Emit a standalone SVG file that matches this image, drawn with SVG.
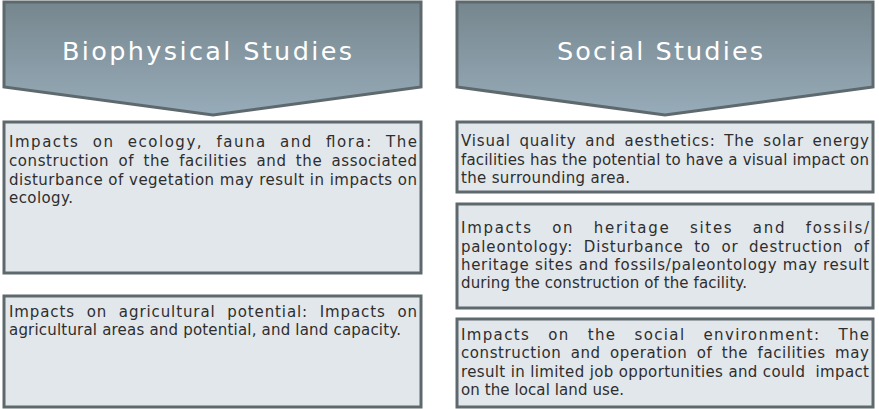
<svg xmlns="http://www.w3.org/2000/svg" width="879" height="409" viewBox="0 0 879 409">
<defs>
<linearGradient id="hg" x1="0" y1="0" x2="0" y2="1">
<stop offset="0" stop-color="#76868e"/>
<stop offset="1" stop-color="#97acb9"/>
</linearGradient>
</defs>
<style>
.hdr{fill:url(#hg);stroke:#5e696e;stroke-width:3;stroke-linejoin:miter}
.box{fill:#e2e7eb;stroke:#5e696e;stroke-width:3}
.ht{font-family:"DejaVu Sans",Verdana,sans-serif;fill:#ffffff}
.bt{font-family:"DejaVu Sans",Verdana,sans-serif;fill:#2e2e2e;white-space:pre}
</style>
<rect width="879" height="409" fill="#ffffff"/>
<g id="header-biophysical">
<polygon class="hdr" points="4,2 421,2 421,87 213,115 4,87"/>
<text class="ht" font-size="25.5" x="62" y="60" textLength="290" lengthAdjust="spacing">Biophysical Studies</text>
</g>
<g id="header-social">
<polygon class="hdr" points="457,2 873,2 873,87 665,115 457,87"/>
<text class="ht" font-size="25.5" x="557" y="60" textLength="206" lengthAdjust="spacing">Social Studies</text>
</g>
<g id="box-ecology" font-size="15">
<rect class="box" x="4" y="122" width="417" height="151"/>
<text class="bt" x="9" y="147" word-spacing="7" textLength="408" lengthAdjust="spacing">Impacts on ecology, fauna and flora: The</text>
<text class="bt" x="9" y="166" word-spacing="4" textLength="408" lengthAdjust="spacing">construction of the facilities and the associated</text>
<text class="bt" x="9" y="185" textLength="408" lengthAdjust="spacing">disturbance of vegetation may result in impacts on</text>
<text class="bt" x="9" y="203" textLength="64" lengthAdjust="spacing">ecology.</text>
</g>
<g id="box-agriculture" font-size="15">
<rect class="box" x="4" y="296" width="417" height="111"/>
<text class="bt" x="9" y="317" word-spacing="6" textLength="408" lengthAdjust="spacing">Impacts on agricultural potential: Impacts on</text>
<text class="bt" x="9" y="335" textLength="392" lengthAdjust="spacing">agricultural areas and potential, and land capacity.</text>
</g>
<g id="box-visual" font-size="15">
<rect class="box" x="457" y="122" width="416" height="70"/>
<text class="bt" x="461" y="146" word-spacing="3" textLength="408" lengthAdjust="spacing">Visual quality and aesthetics: The solar energy</text>
<text class="bt" x="461" y="165" textLength="408" lengthAdjust="spacing">facilities has the potential to have a visual impact on</text>
<text class="bt" x="461" y="183" textLength="169" lengthAdjust="spacing">the surrounding area.</text>
</g>
<g id="box-heritage" font-size="15">
<rect class="box" x="457" y="204" width="416" height="104"/>
<text class="bt" x="461" y="233" word-spacing="13" textLength="408" lengthAdjust="spacing">Impacts on heritage sites and fossils/</text>
<text class="bt" x="461" y="252" word-spacing="5" textLength="408" lengthAdjust="spacing">paleontology: Disturbance to or destruction of</text>
<text class="bt" x="461" y="270" textLength="408" lengthAdjust="spacing">heritage sites and fossils/paleontology may result</text>
<text class="bt" x="461" y="288" textLength="286" lengthAdjust="spacing">during the construction of the facility.</text>
</g>
<g id="box-social" font-size="15">
<rect class="box" x="457" y="319" width="416" height="88"/>
<text class="bt" x="461" y="340" word-spacing="12" textLength="408" lengthAdjust="spacing">Impacts on the social environment: The</text>
<text class="bt" x="461" y="358" word-spacing="4" textLength="408" lengthAdjust="spacing">construction and operation of the facilities may</text>
<text class="bt" x="461" y="377" textLength="408" lengthAdjust="spacing">result in limited job opportunities and could  impact</text>
<text class="bt" x="461" y="395" textLength="163" lengthAdjust="spacing">on the local land use.</text>
</g>
<g id="connectors"></g>
</svg>
